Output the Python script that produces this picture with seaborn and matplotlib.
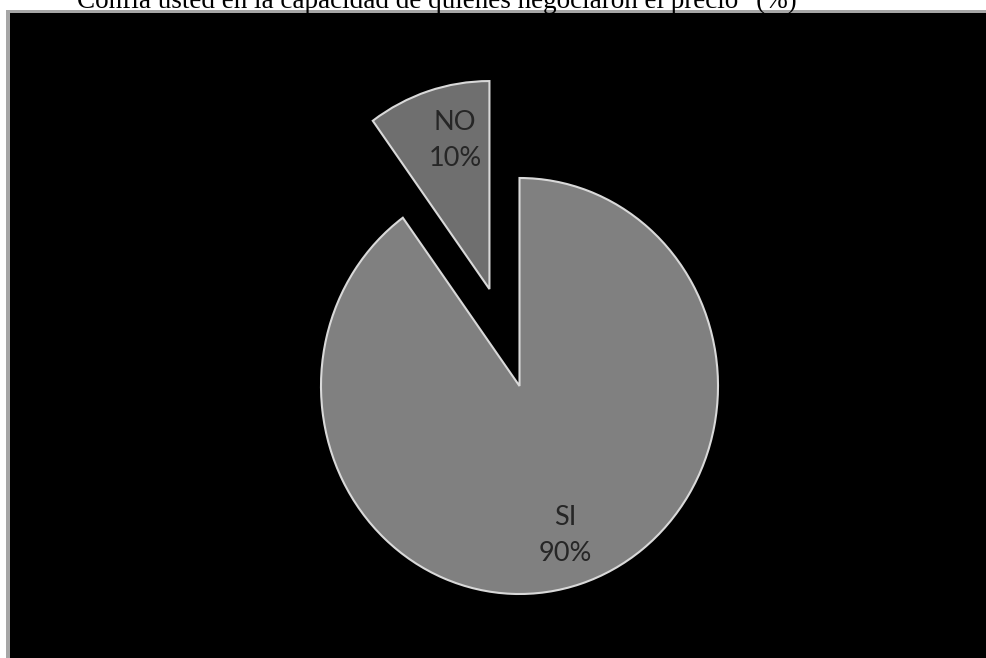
import matplotlib
matplotlib.use("Agg")
import matplotlib.pyplot as plt
import seaborn as sns
from matplotlib.patches import Rectangle

categories = ["NO", "SI"]
values = [10, 90]
colors = ["#6f6f6f", "#808080"]
title_text = "Confía usted en la capacidad de quienes negociaron el precio\" (%)"

sns.set_theme(style="white")
plt.rcParams['font.family'] = ['Lato', 'DejaVu Sans']

W, H = 987, 658
fig = plt.figure(figsize=(W / 100, H / 100), dpi=100)
fig.patch.set_facecolor("white")

# gray frame + black panel
fig.patches.append(Rectangle((6 / W, 0), (W - 6) / W, (H - 10) / H,
                             transform=fig.transFigure, facecolor="#a6a6a6",
                             edgecolor="none", zorder=-2))
fig.patches.append(Rectangle((10 / W, 0), (W - 10) / W, (H - 13) / H,
                             transform=fig.transFigure, facecolor="black",
                             edgecolor="none", zorder=-1))

# title (cut off at top as in reference)
fig.text(437 / W, 1 - 8 / H, title_text, ha="center", va="baseline",
         fontsize=19.5, family=["Liberation Serif", "DejaVu Serif"], color="black")

cx, cy = 519.5, 386
rx, ry = 198.5, 208
L = 1.6
aw, ah = 2 * L * rx, 2 * L * ry
ax = fig.add_axes([(cx - aw / 2) / W, 1 - (cy + ah / 2) / H, aw / W, ah / H])
ax.set_zorder(2)

wedges, texts = ax.pie(values, colors=colors, startangle=90, counterclock=True,
                       explode=[0.49, 0], labels=[f"{c}\n{v}%" for c, v in zip(categories, values)],
                       wedgeprops=dict(edgecolor="#d9d9d9", linewidth=1.5),
                       textprops=dict(fontsize=19.5, color="#262626"),
                       normalize=True, frame=False)
ax.set_xlim(-L, L)
ax.set_ylim(-L, L)
ax.set_aspect("auto")
ax.axis("off")

label_pos = [(-0.325, 1.179), (0.229, -0.72)]
for t, (x, y) in zip(texts, label_pos):
    t.set_position((x, y))
    t.set_ha("center")
    t.set_va("center")
    t.set_linespacing(1.55)

fig.savefig("out.png", dpi=100, facecolor="white")
